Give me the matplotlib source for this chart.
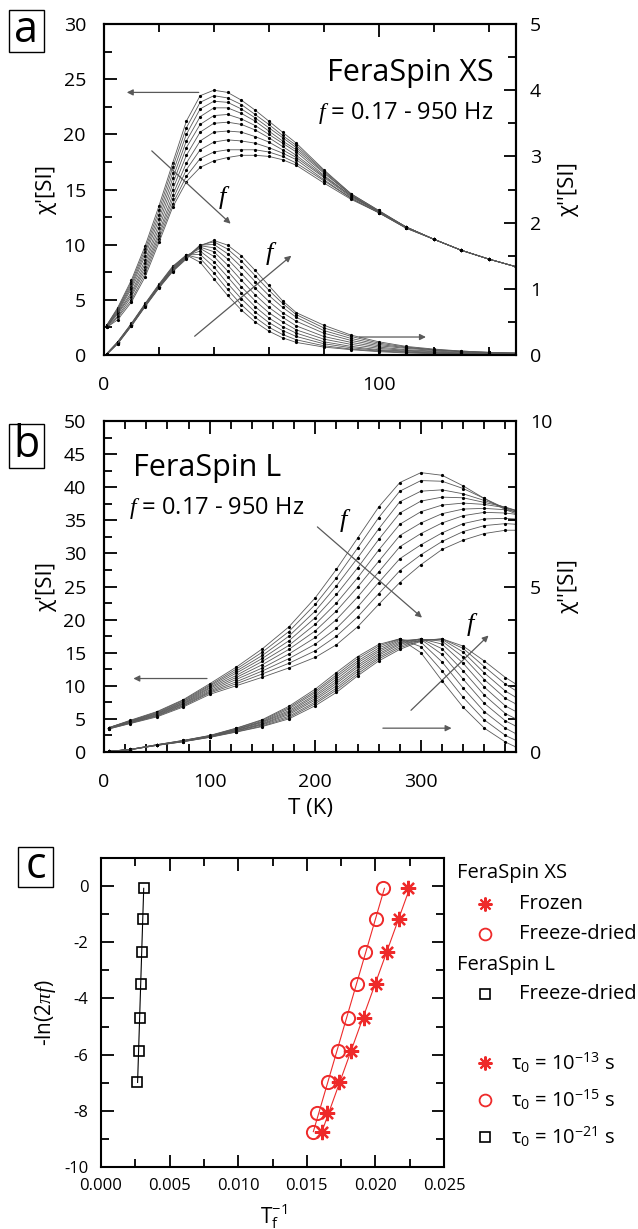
import numpy as np
import matplotlib
matplotlib.use('Agg')
import matplotlib.pyplot as plt
from matplotlib.ticker import MultipleLocator, FormatStrFormatter
from matplotlib.lines import Line2D
from matplotlib.patches import Rectangle

plt.rcParams['font.family'] = ['Open Sans', 'DejaVu Sans']
plt.rcParams['mathtext.fontset'] = 'custom'
plt.rcParams['mathtext.rm'] = 'Open Sans'
plt.rcParams['mathtext.it'] = 'Liberation Serif:italic'
plt.rcParams['axes.unicode_minus'] = False

# ---- panel a: FeraSpin XS, chi' (left axis) and chi'' (right axis), 10 frequencies
T_xs = [1, 5, 10, 15, 20, 25, 30, 35, 40, 45, 50, 55, 60, 65, 70, 80, 90, 100, 110, 120, 130, 140, 150]

chi1_xs = [
    [2.7, 4.3, 6.8, 9.9, 13.5, 17.4, 21.2, 23.5, 24.0, 23.8, 23.1, 22.2, 21.2, 20.2, 19.2, 16.8, 14.6, 13.1, 11.6, 10.5, 9.5, 8.7, 8.0],
    [2.7, 4.2, 6.6, 9.6, 13.1, 17.0, 20.6, 22.9, 23.5, 23.3, 22.7, 21.8, 20.9, 19.9, 19.0, 16.7, 14.6, 13.1, 11.6, 10.5, 9.5, 8.7, 8.0],
    [2.7, 4.1, 6.4, 9.3, 12.7, 16.5, 20.0, 22.3, 23.0, 22.9, 22.3, 21.5, 20.6, 19.7, 18.8, 16.6, 14.5, 13.0, 11.6, 10.5, 9.5, 8.7, 8.0],
    [2.6, 4.0, 6.2, 9.0, 12.3, 16.0, 19.4, 21.6, 22.4, 22.4, 21.9, 21.2, 20.3, 19.4, 18.6, 16.5, 14.5, 13.0, 11.6, 10.5, 9.5, 8.7, 8.0],
    [2.6, 3.9, 6.0, 8.6, 11.9, 15.5, 18.8, 20.9, 21.7, 21.8, 21.4, 20.8, 20.0, 19.2, 18.4, 16.3, 14.4, 13.0, 11.6, 10.5, 9.5, 8.7, 8.0],
    [2.6, 3.8, 5.7, 8.3, 11.5, 15.0, 18.1, 20.2, 21.0, 21.1, 20.9, 20.4, 19.7, 18.9, 18.1, 16.2, 14.4, 13.0, 11.6, 10.5, 9.5, 8.7, 8.0],
    [2.6, 3.7, 5.5, 8.0, 11.1, 14.5, 17.4, 19.4, 20.2, 20.3, 20.2, 19.8, 19.3, 18.6, 17.9, 16.1, 14.3, 13.0, 11.6, 10.5, 9.5, 8.7, 8.0],
    [2.6, 3.5, 5.3, 7.7, 10.8, 14.1, 16.8, 18.6, 19.3, 19.5, 19.4, 19.2, 18.8, 18.3, 17.7, 15.9, 14.2, 12.9, 11.5, 10.5, 9.5, 8.7, 8.0],
    [2.5, 3.4, 5.0, 7.4, 10.5, 13.7, 16.2, 17.8, 18.4, 18.6, 18.6, 18.6, 18.4, 18.0, 17.4, 15.8, 14.2, 12.9, 11.5, 10.5, 9.5, 8.7, 8.0],
    [2.5, 3.2, 4.8, 7.1, 10.2, 13.4, 15.7, 17.0, 17.6, 17.9, 18.1, 18.1, 18.0, 17.7, 17.2, 15.6, 14.1, 12.9, 11.5, 10.5, 9.5, 8.7, 8.0],
]

chi2_xs = [
    [0.02, 0.20, 0.48, 0.78, 1.07, 1.34, 1.51, 1.40, 1.15, 0.90, 0.68, 0.50, 0.36, 0.26, 0.19, 0.12, 0.08, 0.05, 0.03, 0.02, 0.02, 0.01, 0.01],
    [0.02, 0.20, 0.47, 0.77, 1.06, 1.33, 1.51, 1.46, 1.24, 0.99, 0.76, 0.57, 0.42, 0.31, 0.23, 0.14, 0.09, 0.06, 0.04, 0.03, 0.02, 0.01, 0.01],
    [0.02, 0.19, 0.47, 0.77, 1.05, 1.32, 1.51, 1.52, 1.33, 1.08, 0.85, 0.65, 0.49, 0.37, 0.28, 0.17, 0.11, 0.07, 0.05, 0.03, 0.02, 0.02, 0.01],
    [0.02, 0.19, 0.46, 0.76, 1.05, 1.31, 1.50, 1.57, 1.41, 1.18, 0.94, 0.73, 0.56, 0.43, 0.33, 0.20, 0.13, 0.08, 0.06, 0.04, 0.03, 0.02, 0.01],
    [0.02, 0.19, 0.46, 0.76, 1.04, 1.30, 1.50, 1.61, 1.49, 1.27, 1.03, 0.82, 0.64, 0.50, 0.38, 0.24, 0.16, 0.10, 0.07, 0.05, 0.03, 0.02, 0.02],
    [0.01, 0.18, 0.45, 0.75, 1.03, 1.29, 1.49, 1.63, 1.56, 1.36, 1.13, 0.91, 0.72, 0.57, 0.44, 0.28, 0.19, 0.12, 0.08, 0.06, 0.04, 0.03, 0.02],
    [0.01, 0.18, 0.45, 0.75, 1.03, 1.28, 1.48, 1.65, 1.62, 1.45, 1.23, 1.01, 0.81, 0.64, 0.51, 0.33, 0.22, 0.14, 0.10, 0.07, 0.05, 0.03, 0.02],
    [0.01, 0.18, 0.45, 0.74, 1.02, 1.27, 1.47, 1.66, 1.67, 1.53, 1.33, 1.11, 0.90, 0.72, 0.57, 0.37, 0.25, 0.16, 0.11, 0.08, 0.05, 0.04, 0.03],
    [0.01, 0.17, 0.44, 0.74, 1.02, 1.27, 1.46, 1.66, 1.71, 1.60, 1.42, 1.20, 0.98, 0.78, 0.61, 0.41, 0.28, 0.18, 0.12, 0.08, 0.06, 0.04, 0.03],
    [0.01, 0.17, 0.44, 0.73, 1.01, 1.26, 1.45, 1.65, 1.73, 1.66, 1.50, 1.28, 1.05, 0.82, 0.64, 0.45, 0.30, 0.20, 0.13, 0.09, 0.06, 0.04, 0.03],
]

# ---- panel b: FeraSpin L
T_l = [5, 25, 50, 75, 100, 125, 150, 175, 200, 220, 240, 260, 280, 300, 320, 340, 360, 380, 390]

chi1_l = [
    [3.7, 4.8, 6.1, 7.9, 10.3, 12.8, 15.6, 18.9, 23.3, 27.6, 32.3, 37.0, 40.7, 42.2, 41.8, 40.2, 38.3, 36.6, 36.0],
    [3.7, 4.74, 6.0, 7.8, 10.1, 12.5, 15.1, 18.2, 22.3, 26.3, 30.8, 35.4, 39.4, 41.0, 40.9, 39.8, 38.3, 36.8, 36.2],
    [3.7, 4.69, 5.9, 7.65, 9.95, 12.2, 14.6, 17.5, 21.3, 25.1, 29.3, 33.7, 37.8, 39.4, 39.6, 39.0, 38.0, 36.9, 36.4],
    [3.6, 4.63, 5.8, 7.55, 9.75, 11.9, 14.15, 16.8, 20.3, 23.8, 27.8, 32.1, 36.1, 37.9, 38.5, 38.4, 37.7, 37.0, 36.5],
    [3.6, 4.58, 5.75, 7.4, 9.6, 11.55, 13.7, 16.1, 19.3, 22.5, 26.3, 30.5, 34.4, 36.3, 37.3, 37.6, 37.4, 36.9, 36.5],
    [3.6, 4.52, 5.65, 7.3, 9.4, 11.25, 13.2, 15.5, 18.3, 21.3, 24.9, 28.8, 32.7, 34.6, 36.0, 36.7, 36.8, 36.6, 36.3],
    [3.6, 4.47, 5.55, 7.2, 9.2, 10.95, 12.7, 14.8, 17.3, 20.0, 23.4, 27.2, 31.0, 33.0, 34.6, 35.7, 36.2, 36.1, 35.9],
    [3.6, 4.41, 5.5, 7.05, 9.05, 10.6, 12.25, 14.1, 16.3, 18.7, 21.9, 25.6, 29.2, 31.3, 33.1, 34.5, 35.2, 35.3, 35.2],
    [3.5, 4.36, 5.4, 6.95, 8.9, 10.3, 11.8, 13.4, 15.3, 17.5, 20.4, 23.9, 27.4, 29.8, 31.8, 33.3, 34.2, 34.5, 34.4],
    [3.5, 4.3, 5.3, 6.8, 8.7, 10.0, 11.3, 12.7, 14.3, 16.2, 18.9, 22.3, 25.6, 28.3, 30.6, 32.0, 33.0, 33.5, 33.5],
]

chi2_l = [
    [0.02, 0.08, 0.22, 0.35, 0.50, 0.72, 0.98, 1.38, 1.90, 2.40, 2.88, 3.25, 3.42, 3.00, 2.15, 1.35, 0.72, 0.30, 0.15],
    [0.02, 0.08, 0.22, 0.35, 0.49, 0.71, 0.96, 1.34, 1.84, 2.33, 2.82, 3.20, 3.42, 3.18, 2.45, 1.65, 0.97, 0.50, 0.35],
    [0.02, 0.08, 0.22, 0.34, 0.49, 0.69, 0.93, 1.30, 1.79, 2.27, 2.75, 3.14, 3.40, 3.32, 2.72, 1.93, 1.22, 0.72, 0.55],
    [0.02, 0.08, 0.21, 0.34, 0.48, 0.68, 0.91, 1.25, 1.73, 2.20, 2.69, 3.08, 3.37, 3.40, 2.95, 2.20, 1.47, 0.94, 0.78],
    [0.02, 0.08, 0.21, 0.33, 0.47, 0.67, 0.89, 1.21, 1.68, 2.13, 2.62, 3.03, 3.33, 3.42, 3.12, 2.45, 1.72, 1.16, 1.00],
    [0.02, 0.07, 0.21, 0.33, 0.47, 0.65, 0.86, 1.17, 1.62, 2.07, 2.56, 2.97, 3.29, 3.42, 3.26, 2.68, 1.96, 1.39, 1.22],
    [0.02, 0.07, 0.21, 0.32, 0.46, 0.64, 0.84, 1.13, 1.57, 2.00, 2.49, 2.92, 3.25, 3.41, 3.35, 2.87, 2.19, 1.62, 1.45],
    [0.02, 0.07, 0.20, 0.32, 0.45, 0.63, 0.82, 1.08, 1.51, 1.93, 2.43, 2.86, 3.20, 3.39, 3.40, 3.02, 2.39, 1.84, 1.65],
    [0.02, 0.07, 0.20, 0.31, 0.45, 0.61, 0.79, 1.04, 1.46, 1.87, 2.36, 2.81, 3.15, 3.37, 3.42, 3.13, 2.58, 2.05, 1.85],
    [0.02, 0.07, 0.20, 0.31, 0.44, 0.60, 0.77, 1.00, 1.40, 1.80, 2.30, 2.75, 3.10, 3.35, 3.42, 3.20, 2.75, 2.25, 2.05],
]

# ---- panel c: Arrhenius-type plot
neg_ln = [-0.08, -1.16, -2.36, -3.47, -4.69, -5.87, -6.99, -8.08, -8.74]
invTf_xs_frozen = [0.02240, 0.02171, 0.02082, 0.02007, 0.01918, 0.01822, 0.01738, 0.01649, 0.01613]
invTf_xs_fd = [0.02052, 0.02007, 0.01927, 0.01867, 0.01801, 0.01729, 0.01655, 0.01574, 0.01544]
invTf_l_fd = [0.00311, 0.00305, 0.00296, 0.00290, 0.00281, 0.00275, 0.00266]

W, H = 638, 1229
RED = '#ee2a2a'
GREY = '0.35'

fig = plt.figure(figsize=(W / 100, H / 100), dpi=100)


def rect(l, t, r, b):
    return [l / W, 1 - b / H, (r - l) / W, (b - t) / H]


def fp(x, y):
    return x / W, 1 - y / H


def style(ax, ypad=13, xpad=15, size=14):
    ax.tick_params(which='both', direction='in', width=1.3, labelsize=size)
    ax.tick_params(which='major', length=9)
    ax.tick_params(which='minor', length=5.5)
    ax.tick_params(axis='y', pad=ypad)
    ax.tick_params(axis='x', pad=xpad)
    for s in ax.spines.values():
        s.set_linewidth(1.5)


def letter_box(ch, l, t, r, b):
    fig.add_artist(Rectangle(fp(l, b), (r - l) / W, (b - t) / H, transform=fig.transFigure,
                             fill=False, ec='k', lw=1.0))
    x, y = fp((l + r) / 2, (t + b) / 2)
    fig.text(x, y, ch, fontsize=31, ha='center', va='center')


arrow = dict(arrowstyle='-|>', color=GREY, lw=0.9, mutation_scale=9, shrinkA=0, shrinkB=0)
curve = dict(color=GREY, lw=0.6, marker='o', ms=2.3, mfc='k', mec='k', mew=0)

# ================= panel a
ax_a = fig.add_axes(rect(104, 24, 516, 355))
ax_a.set_xlim(0, 150)
ax_a.set_ylim(0, 30)
ax_a.xaxis.set_major_locator(MultipleLocator(100))
ax_a.xaxis.set_minor_locator(MultipleLocator(20))
ax_a.yaxis.set_major_locator(MultipleLocator(5))
ax_a.yaxis.set_minor_locator(MultipleLocator(2.5))
style(ax_a)
ax_a.tick_params(which='both', top=True, right=False)
ax_a.set_ylabel("χ'[SI]", fontsize=16)
ax_a.yaxis.set_label_coords(-0.114, 0.5)

ax_a2 = ax_a.twinx()
ax_a2.set_ylim(0, 5)
ax_a2.yaxis.set_major_locator(MultipleLocator(1))
ax_a2.yaxis.set_minor_locator(MultipleLocator(0.5))
style(ax_a2, ypad=10)
ax_a2.set_ylabel("χ''[SI]", fontsize=16, rotation=90)
ax_a2.yaxis.set_label_coords(1.102, 0.5)

for row in chi1_xs:
    ax_a.plot(T_xs, row, **curve)
for row in chi2_xs:
    ax_a2.plot(T_xs, row, **curve)

ax_a.annotate('', xy=(8.3, 23.8), xytext=(34.5, 23.8), arrowprops=arrow)
ax_a.annotate('', xy=(46.1, 11.9), xytext=(17.4, 18.5), arrowprops=arrow)
ax_a.text(43.9, 14.3, '$f$', fontsize=19, ha='center', va='center')
ax_a.annotate('', xy=(68.2, 9.0), xytext=(33.0, 1.7), arrowprops=arrow)
ax_a.text(61.0, 9.2, '$f$', fontsize=19, ha='center', va='center')
ax_a.annotate('', xy=(117.2, 1.63), xytext=(92.9, 1.63), arrowprops=arrow)
ax_a.text(141.8, 25.6, 'FeraSpin XS', fontsize=22, ha='right', va='center')
ax_a.text(141.8, 21.9, '$f$ = 0.17 - 950 Hz', fontsize=17, ha='right', va='center')

# ================= panel b
ax_b = fig.add_axes(rect(104, 421, 516, 752))
ax_b.set_xlim(0, 390)
ax_b.set_ylim(0, 50)
ax_b.xaxis.set_major_locator(MultipleLocator(100))
ax_b.xaxis.set_minor_locator(MultipleLocator(20))
ax_b.yaxis.set_major_locator(MultipleLocator(5))
ax_b.yaxis.set_minor_locator(MultipleLocator(2.5))
style(ax_b)
ax_b.tick_params(which='both', top=True, right=False)
ax_b.set_ylabel("χ'[SI]", fontsize=16)
ax_b.yaxis.set_label_coords(-0.114, 0.5)
ax_b.set_xlabel('T (K)', fontsize=16)
ax_b.xaxis.set_label_coords(0.5, -0.139)

ax_b2 = ax_b.twinx()
ax_b2.set_ylim(0, 10)
ax_b2.yaxis.set_major_locator(MultipleLocator(5))
ax_b2.yaxis.set_minor_locator(MultipleLocator(1))
style(ax_b2, ypad=10)
ax_b2.set_ylabel("χ''[SI]", fontsize=16, rotation=90)
ax_b2.yaxis.set_label_coords(1.102, 0.5)

for row in chi1_l:
    ax_b.plot(T_l, row, **curve)
for row in chi2_l:
    ax_b2.plot(T_l, row, **curve)

ax_b.text(27.8, 42.9, 'FeraSpin L', fontsize=22, ha='left', va='center')
ax_b.text(24.0, 36.9, '$f$ = 0.17 - 950 Hz', fontsize=17, ha='left', va='center')
ax_b.annotate('', xy=(301, 20.3), xytext=(202, 34.0), arrowprops=arrow)
ax_b.text(228.5, 34.9, '$f$', fontsize=19, ha='center', va='center')
ax_b.annotate('', xy=(364, 17.6), xytext=(290.6, 6.3), arrowprops=arrow)
ax_b.text(349, 19.3, '$f$', fontsize=19, ha='center', va='center')
ax_b.annotate('', xy=(27.8, 11.1), xytext=(97.5, 11.1), arrowprops=arrow)
ax_b.annotate('', xy=(329, 3.6), xytext=(264, 3.6), arrowprops=arrow)

# ================= panel c
ax_c = fig.add_axes(rect(101, 858, 444, 1167))
ax_c.set_xlim(0, 0.025)
ax_c.set_ylim(-10, 1)
ax_c.xaxis.set_major_locator(MultipleLocator(0.005))
ax_c.xaxis.set_minor_locator(MultipleLocator(0.0025))
ax_c.xaxis.set_major_formatter(FormatStrFormatter('%.3f'))
ax_c.yaxis.set_major_locator(MultipleLocator(2))
ax_c.yaxis.set_minor_locator(MultipleLocator(1))
style(ax_c, ypad=9, xpad=8, size=12)
ax_c.tick_params(which='both', top=True, right=True)
ax_c.set_ylabel('-ln(2$\\pi f$)', fontsize=15)
ax_c.yaxis.set_label_coords(-0.125, 0.5)
ax_c.set_xlabel('T$_\\mathrm{f}^{-1}$', fontsize=15)
ax_c.xaxis.set_label_coords(0.504, -0.112)

for xs, ys, col in [(invTf_xs_frozen, neg_ln, RED), (invTf_xs_fd, neg_ln, RED),
                    (invTf_l_fd, neg_ln[:len(invTf_l_fd)], 'k')]:
    p = np.polyfit(ys, xs, 1)
    yy = np.array([min(ys), max(ys)])
    ax_c.plot(np.polyval(p, yy), yy, color=col, lw=0.8)

star = (8, 2, 0)
ax_c.plot(invTf_xs_frozen, neg_ln, ls='none', marker=star, ms=11, color=RED, mew=1.6)
ax_c.plot(invTf_xs_fd, neg_ln, ls='none', marker='o', ms=9.5, mfc='none', mec=RED, mew=1.4)
ax_c.plot(invTf_l_fd, neg_ln[:len(invTf_l_fd)], ls='none', marker='s', ms=7, mfc='none', mec='k', mew=1.2)

# legend for panel c, drawn at figure level
leg_fs = 14.5
fig.text(*fp(457, 873), 'FeraSpin XS', fontsize=leg_fs, va='center')
fig.text(*fp(457, 965), 'FeraSpin L', fontsize=leg_fs, va='center')
entries = [
    (904, dict(marker=star, ms=10, color=RED, mew=1.5), 'Frozen', 519),
    (934, dict(marker='o', ms=8.5, mfc='none', mec=RED, mew=1.3), 'Freeze-dried', 519),
    (994, dict(marker='s', ms=6.5, mfc='none', mec='k', mew=1.2), 'Freeze-dried', 519),
    (1063, dict(marker=star, ms=10, color=RED, mew=1.5), 'τ$_0$ = 10$^{-13}$ s', 511),
    (1100, dict(marker='o', ms=8.5, mfc='none', mec=RED, mew=1.3), 'τ$_0$ = 10$^{-15}$ s', 511),
    (1137, dict(marker='s', ms=6.5, mfc='none', mec='k', mew=1.2), 'τ$_0$ = 10$^{-21}$ s', 511),
]
for y, mk, label, tx in entries:
    mx, my = fp(485, y)
    fig.add_artist(Line2D([mx], [my], ls='none', transform=fig.transFigure, **mk))
    fig.text(*fp(tx, y), label, fontsize=leg_fs, va='center')

letter_box('a', 9, 10, 44, 52)
letter_box('b', 9, 424, 44, 468)
letter_box('c', 18, 847, 53, 887)

fig.savefig('out.png', dpi=100)
